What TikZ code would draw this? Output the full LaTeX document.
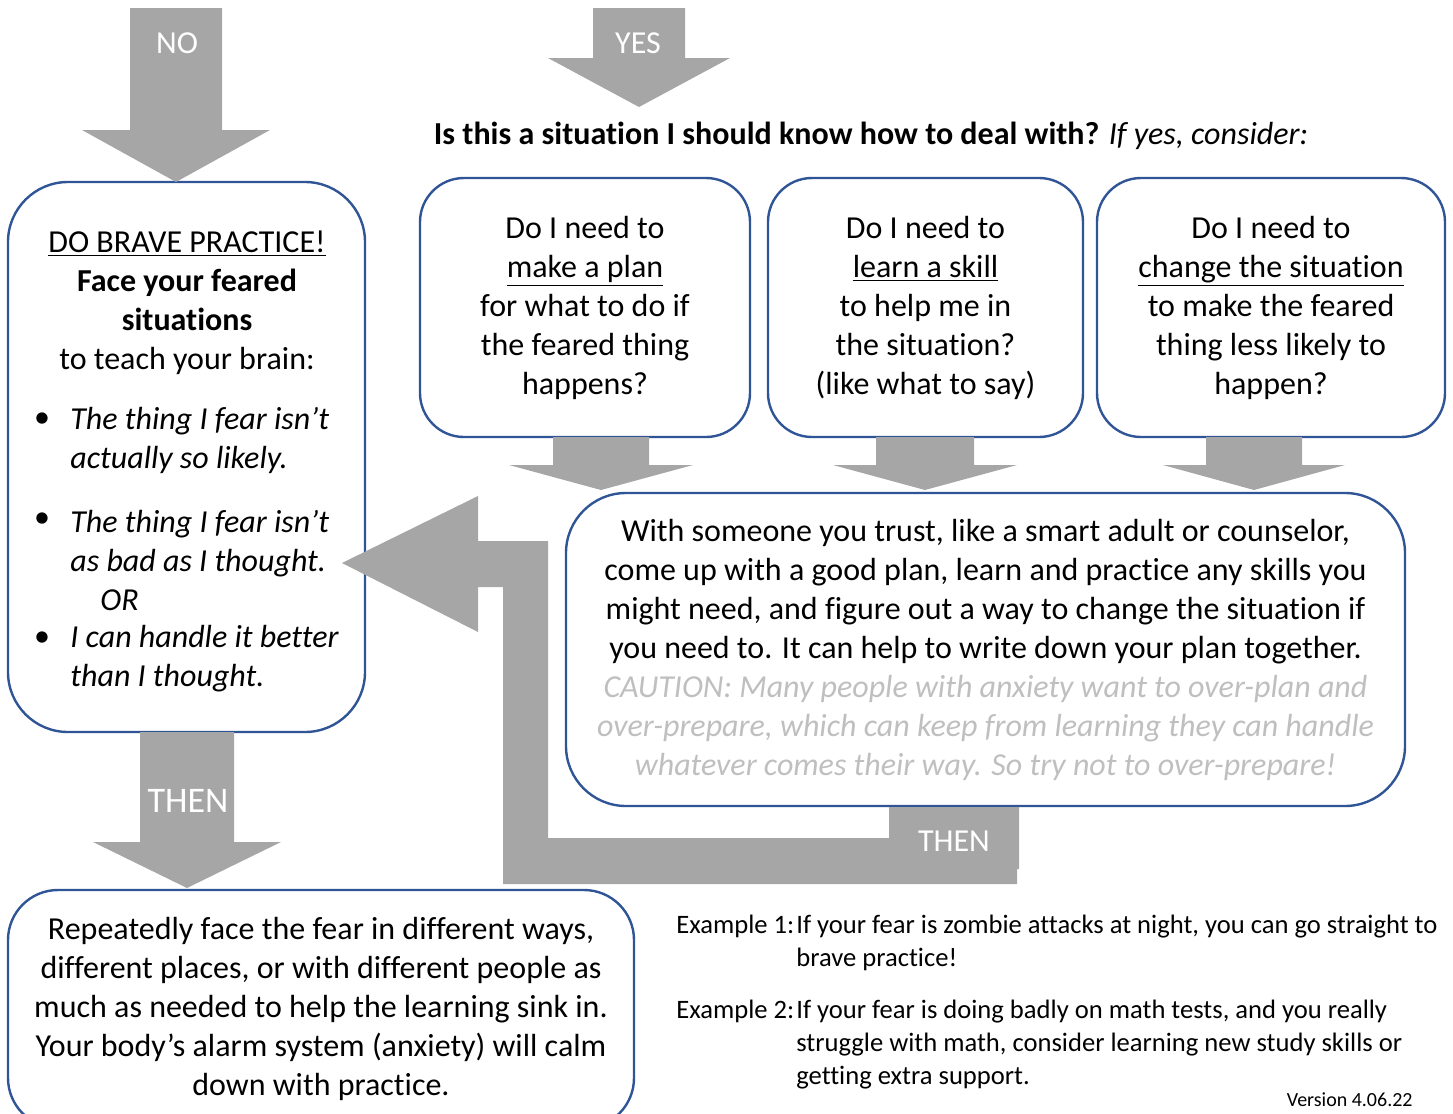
\documentclass[tikz,border=0pt]{standalone}
\usepackage{fontspec}
\setmainfont{Carlito}[Ligatures=NoCommon]
\usetikzlibrary{positioning}

\definecolor{boxblue}{HTML}{2F5597}
\definecolor{arrowgray}{HTML}{A6A6A6}
\definecolor{cautiongray}{HTML}{BFBFBF}

\newcommand{\caut}[1]{\textcolor{cautiongray}{\textit{#1}}}
% block arrow pointing down: centre x, shaft half width, top, head base, head half width, tip
\newcommand{\downblock}[6]{\fill[arrowgray] (#1-#2,#3) -- (#1+#2,#3) -- (#1+#2,#4) -- (#1+#5,#4) -- (#1,#6) -- (#1-#5,#4) -- (#1-#2,#4) -- cycle;}

\begin{document}
\begin{tikzpicture}[x=0.5pt,y=-0.5pt]

\tikzset{box/.style = {draw=boxblue, line width=1.2pt, rounded corners=22pt, align=center, inner sep=0pt, font=\fontsize{16}{19.5}\selectfont}}
\tikzset{txt/.style = {inner sep=0pt, font=\fontsize{16}{19.5}\selectfont}}
\tikzset{lbl/.style = {text=white, inner sep=0pt, font=\fontsize{16}{19.5}\selectfont}}
\tikzset{small/.style = {inner sep=0pt, font=\fontsize{13.3}{16.5}\selectfont}}

\useasboundingbox (0,0) rectangle (1453,1114);

%boxes
\node[box, minimum width=178.5pt, minimum height=275pt, rounded corners=30pt] (brave) at (186.5,457) {};
\node[txt, align=center] (bravehead) at (187,303) {\underline{DO BRAVE PRACTICE!}\\\textbf{Face your feared}\\\textbf{situations}\\to teach your brain:};
\node[txt] (dot1) at (42,420) {\textbullet};
\node[txt, align=left, anchor=west] (fear1) at (70,440) {\textit{The thing I fear isn’t}\\\textit{actually so likely.}};
\node[txt] (dot2) at (42,520) {\textbullet};
\node[txt, align=left, anchor=west] (fear2) at (70,560) {\textit{The thing I fear isn’t}\\\textit{as bad as I thought.}\\\hspace*{15pt}\textit{OR}};
\node[txt] (dot3) at (42,639) {\textbullet};
\node[txt, align=left, anchor=west] (fear3) at (70,659) {\textit{I can handle it better}\\\textit{than I thought.}};

\node[box, minimum width=165pt, minimum height=129.5pt] (plan) at (585,307.5)
  {Do I need to\\\underline{make a plan}\\for what to do if\\the feared thing\\happens?};
\node[box, minimum width=157.5pt, minimum height=129.5pt] (skill) at (925.5,307.5)
  {Do I need to\\\underline{learn a skill}\\to help me in\\the situation?\\(like what to say)};
\node[box, minimum width=174pt, minimum height=129.5pt] (change) at (1271,307.5)
  {Do I need to\\\underline{change the situation}\\to make the feared\\thing less likely to\\happen?};

\node[box, minimum width=419.5pt, minimum height=156.5pt, rounded corners=30pt] (trust) at (985.5,649.5)
  {With someone you trust, like a smart adult or counselor,\\
   come up with a good plan, learn and practice any skills you\\
   might need, and figure out a way to change the situation if\\
   you need to. It can help to write down your plan together.\\
   \caut{CAUTION: Many people with anxiety want to over-plan and}\\
   \caut{over-prepare, which can keep from learning they can handle}\\
   \caut{whatever comes their way. So try not to over-prepare!}};

\node[box, minimum width=313pt, minimum height=119pt, rounded corners=25pt] (repeat) at (321,1009)
  {Repeatedly face the fear in different ways,\\different places, or with different people as\\much as needed to help the learning sink in.\\Your body’s alarm system (anxiety) will calm\\down with practice.};

%arrows
\downblock{176}{46}{8}{130}{94}{182}
\node[lbl] (no) at (177,43) {NO};
\downblock{639}{46}{8}{58}{91}{107}
\node[lbl] (yes) at (638,43) {YES};
\downblock{601}{48}{437}{465}{92}{490}
\downblock{925}{49}{437}{465}{92}{490}
\downblock{1254}{48}{437}{465}{91}{490}
\downblock{187}{47}{732}{842}{94}{888}
\node[lbl, font=\fontsize{18}{21}\selectfont] (thenleft) at (188,801) {THEN};
\fill[arrowgray] (1017,884) -- (503,884) -- (503,587) -- (478,587) -- (478,632) -- (342,563)
  -- (478,496) -- (478,541) -- (548,541) -- (548,838) -- (889,838) -- (889,807)
  -- (1019,807) -- (1019,869) -- (1017,869) -- cycle;
\node[lbl] (thenback) at (954,841) {THEN};

%heading
\node[txt] (question) at (871,136) {\textbf{Is this a situation I should know how to deal with?} \textit{If yes, consider:}};

%examples
\node[small, anchor=west] (ex1) at (676,943) {\begin{tabular}{@{}l@{\hspace{1pt}}l@{}}
  Example 1: & If your fear is zombie attacks at night, you can go straight to\\
             & brave practice!\end{tabular}};
\node[small, anchor=west] (ex2) at (676,1045) {\begin{tabular}{@{}l@{\hspace{1pt}}l@{}}
  Example 2: & If your fear is doing badly on math tests, and you really\\
             & struggle with math, consider learning new study skills or\\
             & getting extra support.\end{tabular}};
\node[inner sep=0pt, font=\fontsize{10}{12}\selectfont, anchor=east] (version) at (1413,1100) {Version 4.06.22};

\end{tikzpicture}
\end{document}
